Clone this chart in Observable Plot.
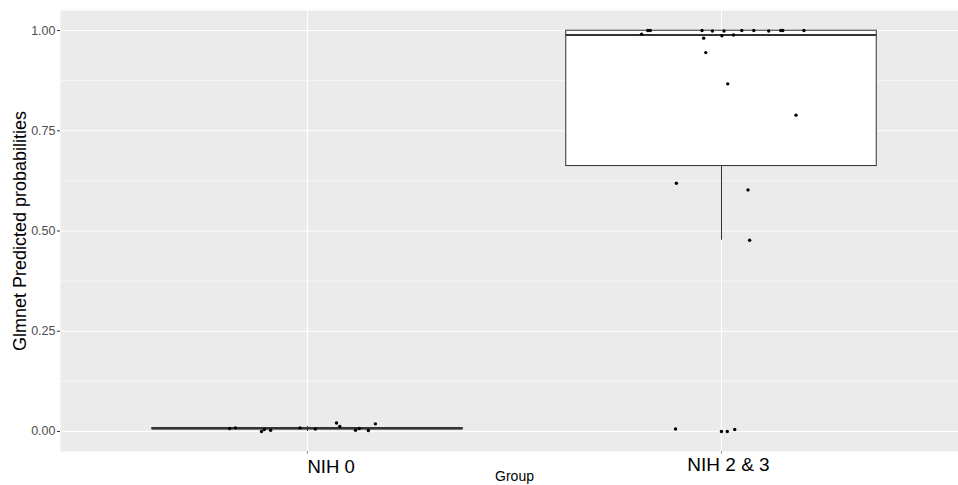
<!DOCTYPE html>
<html><head><meta charset="utf-8">
<script src="https://cdn.jsdelivr.net/npm/d3@7"></script>
<script src="https://cdn.jsdelivr.net/npm/@observablehq/plot@0.6"></script>
<style>body{margin:0;background:#fff}</style>
</head><body><div id="chart"></div>
<script>
// Categories
const groups = ["NIH 0", "NIH 2 & 3"];

// Box statistics (per group)
const boxQ1 = [0.0055, 0.662];
const boxMedian = [0.0075, 0.989];
const boxQ3 = [0.0085, 0.9995];
const whiskerLow = [0.0, 0.477];
const whiskerHigh = [0.0125, 1.0];

// Jittered points: group index, horizontal jitter (group units), value
const pointGroup = [
  0,0,0,0,0,0,0,0,0,0,0,0,0,
  1,1,1,1,1,1,1,1,1,1,1,1,1,1,1,1,1,1,1,1,1,1,1,1,1
];
const pointJitter = [
  -0.188,-0.174,-0.111,-0.104,-0.089,-0.018,0.019,0.070,0.078,0.116,0.125,0.147,0.164,
  -0.178,-0.172,-0.193,-0.047,-0.043,-0.022,-0.038,0.001,0.006,0.029,0.049,0.078,0.114,0.143,0.148,0.199,
  0.015,0.180,-0.109,0.064,0.068,-0.111,0.0,0.014,0.032
];
const pointValue = [
  0.0075,0.009,0.0,0.005,0.003,0.009,0.006,0.021,0.0125,0.003,0.0075,0.0025,0.019,
  1.0,1.0,0.991,1.0,0.981,0.999,0.945,0.987,0.999,0.989,1.0,1.0,0.999,1.0,1.0,1.0,
  0.867,0.789,0.619,0.6025,0.477,0.006,0.0,0.0,0.005
];

// Tick values
const yMajorTicks = [0, 0.25, 0.5, 0.75, 1];
const yMinorTicks = [0.125, 0.375, 0.625, 0.875];
const yTitle = "Glmnet Predicted probabilities";
const xTitle = "Group";

const boxIdx = groups.map((_, i) => i);
const ptIdx = pointValue.map((_, i) => i);
const hw = 0.375;

const chart = Plot.plot({
  width: 958, height: 485,
  marginLeft: 60, marginRight: 0, marginTop: 10, marginBottom: 34,
  style: {fontFamily: "'Liberation Sans', Arial, sans-serif", background: "#fff"},
  x: {type: "linear", domain: [1, 2], range: [307, 721], axis: null},
  y: {domain: [-0.05, 1.05], axis: null},
  marks: [
    Plot.frame({fill: "#ebebeb", stroke: null}),
    Plot.ruleY(yMinorTicks, {stroke: "#fff", strokeWidth: 0.6}),
    Plot.ruleY(yMajorTicks, {stroke: "#fff", strokeWidth: 1.1}),
    Plot.ruleX([1, 2], {stroke: "#fff", strokeWidth: 1.1}),
    Plot.axisY({ticks: yMajorTicks, tickFormat: d3.format(".2f"), tickSize: 3, tickPadding: 2,
      fontSize: 12.5, fill: "#4d4d4d", stroke: "#333"}),
    Plot.axisX({ticks: [1, 2], tickFormat: () => "", tickSize: 3, stroke: "#999"}),
    // whiskers
    Plot.ruleX(boxIdx, {x: i => i + 1, y1: i => boxQ1[i], y2: i => whiskerLow[i], stroke: "#333", strokeWidth: 1}),
    Plot.ruleX(boxIdx, {x: i => i + 1, y1: i => boxQ3[i], y2: i => whiskerHigh[i], stroke: "#333", strokeWidth: 1}),
    // boxes
    Plot.rect(boxIdx, {x1: i => i + 1 - hw, x2: i => i + 1 + hw, y1: i => boxQ1[i], y2: i => boxQ3[i],
      fill: "#fff", stroke: "#333", strokeWidth: 1}),
    Plot.ruleY(boxIdx, {y: i => boxMedian[i], x1: i => i + 1 - hw, x2: i => i + 1 + hw, stroke: "#333", strokeWidth: 2}),
    // points
    Plot.dot(ptIdx, {x: i => pointGroup[i] + 1 + pointJitter[i], y: i => pointValue[i], r: 1.7, fill: "#000", stroke: null}),
    // x tick labels
    Plot.text([0], {x: i => i + 1, text: i => groups[i], frameAnchor: "bottom", dy: 21, textAnchor: "start",
      fontSize: 18.5, fill: "#000"}),
    Plot.text([1], {x: i => i + 1, text: i => groups[i], frameAnchor: "bottom", dy: 19, dx: 7,
      fontSize: 19, fill: "#000"}),
    // axis titles
    Plot.text([xTitle], {x: () => 1.5, frameAnchor: "bottom", dy: 29, fontSize: 14, fill: "#000"}),
    Plot.text([yTitle], {frameAnchor: "left", dx: -40, rotate: -90, textAnchor: "middle", fontSize: 18, fill: "#000"})
  ]
});
document.getElementById("chart").append(chart);
</script>
</body></html>
